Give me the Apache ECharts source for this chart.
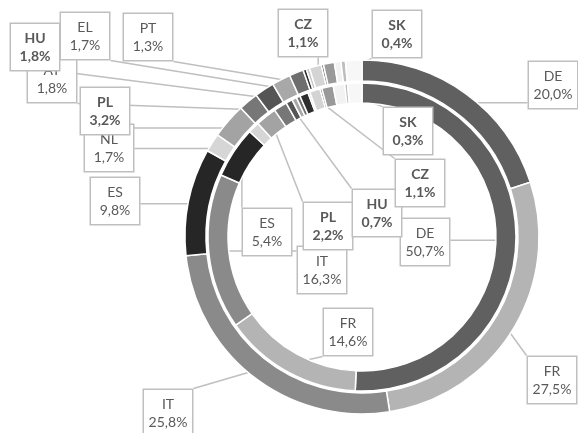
<!DOCTYPE html>
<html>
<head>
<meta charset="utf-8">
<script src="https://cdn.jsdelivr.net/npm/echarts@6/dist/echarts.min.js"></script>
<style>
html, body { margin: 0; padding: 0; background: #fff; }
#main { width: 578px; height: 433px; }
</style>
</head>
<body>
<div id="main"></div>
<script>
var countries = ['DE', 'FR', 'IT', 'ES', 'NL', 'PL', 'AT', 'HU', 'EL', 'PT', 'BE', 'RO', 'CZ', 'BG', 'SE', 'DK', 'SK', 'LU'];
// outer ring shares (%)
var outerShare = [20.0, 27.5, 25.8, 9.8, 1.7, 3.2, 1.8, 1.8, 1.7, 1.3, 0.3, 0.3, 1.1, 0.2, 1.0, 0.6, 0.4, 1.5];
// inner ring shares (%)
var innerShare = [50.7, 14.6, 16.3, 5.4, 1.2, 2.2, 1.4, 0.7, 0.5, 0.4, 0.9, 0.2, 1.1, 0.2, 1.2, 1.2, 0.3, 1.5];
var outerLabelled = ['DE', 'FR', 'IT', 'ES', 'NL', 'PL', 'AT', 'HU', 'EL', 'PT', 'CZ', 'SK'];
var innerLabelled = ['DE', 'FR', 'IT', 'ES', 'PL', 'HU', 'CZ', 'SK'];
var boldNames = ['PL', 'HU', 'CZ', 'SK'];

var colors = ['#606060', '#b4b4b4', '#8a8a8a', '#262626', '#d6d6d6', '#a3a3a3', '#777777', '#555555',
  '#a8a8a8', '#6e6e6e', '#2e2e2e', '#c8c8c8', '#d4d4d4', '#4a4a4a', '#999999', '#f2f2f2', '#bdbdbd', '#f7f7f7'];

// callout box centres
var outerLabelAt = {
  DE: [553, 85], FR: [552, 380], IT: [168, 413], ES: [115, 201], NL: [109, 148], PL: [105, 111],
  AT: [52, 79], HU: [35, 47], EL: [85, 36], PT: [148, 37], CZ: [303, 33], SK: [397, 34]
};
var innerLabelAt = {
  DE: [425, 242], FR: [348, 332], IT: [322, 270], ES: [267, 232], PL: [328, 226],
  HU: [377, 213], CZ: [420, 183], SK: [408, 131]
};

var cx = 362, cy = 237;
var myChart = echarts.init(document.getElementById('main'));

function buildData(values, labelled) {
  return countries.map(function (c, i) {
    var shown = labelled.indexOf(c) >= 0;
    return {
      name: c,
      value: values[i],
      itemStyle: { color: colors[i] },
      label: { show: shown, fontWeight: boldNames.indexOf(c) >= 0 ? 'bold' : 'normal' },
      labelLine: { show: shown }
    };
  });
}

function calloutLayout(labelAt, ringMid) {
  return function (p) {
    var at = labelAt[countries[p.dataIndex]];
    if (!at) return {};
    var res = { x: at[0], y: at[1], align: 'center', verticalAlign: 'middle' };
    var pts = p.labelLinePoints;
    if (pts && pts.length) {
      var w = p.labelRect.width, h = p.labelRect.height;
      var dx = pts[0][0] - cx, dy = pts[0][1] - cy;
      var d = Math.sqrt(dx * dx + dy * dy);
      var ax = cx + dx * ringMid / d, ay = cy + dy * ringMid / d;
      var left = at[0] - w / 2, top = at[1] - h / 2;
      var ex = Math.min(Math.max(ax, left), left + w);
      var ey = Math.min(Math.max(ay, top), top + h);
      res.labelLinePoints = [[ax, ay], [ex, ey], [ex, ey]];
    }
    return res;
  };
}

var labelStyle = {
  position: 'outside',
  formatter: function (p) {
    return p.name + '\n' + p.value.toFixed(1).replace('.', ',') + '%';
  },
  color: '#595959',
  fontFamily: 'Lato',
  fontSize: 14,
  lineHeight: 18,
  width: 38,
  height: 36,
  overflow: 'none',
  align: 'center',
  backgroundColor: '#fff',
  borderColor: '#bfbfbf',
  borderWidth: 1.5,
  padding: [5, 5]
};

var option = {
  backgroundColor: '#fff',
  animation: false,
  series: [
    {
      name: 'inner',
      type: 'pie',
      center: [cx, cy],
      radius: [134, 154],
      startAngle: 90,
      avoidLabelOverlap: false,
      itemStyle: { borderColor: '#fff', borderWidth: 1.5 },
      label: labelStyle,
      labelLine: { lineStyle: { color: '#bfbfbf', width: 1.5 } },
      labelLayout: calloutLayout(innerLabelAt, 144),
      emphasis: { disabled: true },
      data: buildData(innerShare, innerLabelled)
    },
    {
      name: 'outer',
      type: 'pie',
      center: [cx, cy],
      radius: [156, 177],
      startAngle: 90,
      avoidLabelOverlap: false,
      itemStyle: { borderColor: '#fff', borderWidth: 1.5 },
      label: labelStyle,
      labelLine: { lineStyle: { color: '#bfbfbf', width: 1.5 } },
      labelLayout: calloutLayout(outerLabelAt, 166),
      emphasis: { disabled: true },
      data: buildData(outerShare, outerLabelled)
    }
  ]
};
myChart.setOption(option);
</script>
</body>
</html>
